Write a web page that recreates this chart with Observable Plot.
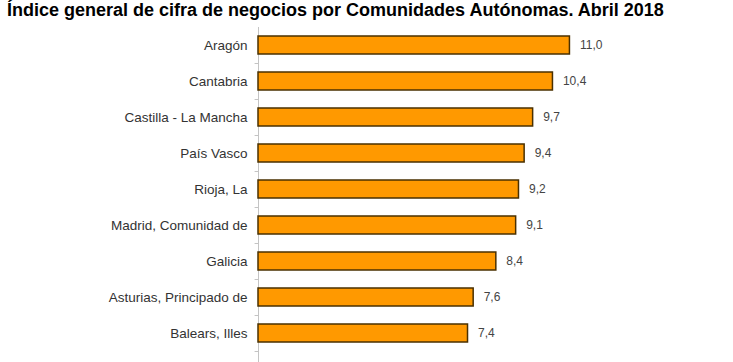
<!DOCTYPE html>
<html><head><meta charset="utf-8">
<script src="https://cdn.jsdelivr.net/npm/d3@7"></script>
<script src="https://cdn.jsdelivr.net/npm/@observablehq/plot@0.6"></script>
<style>
body{margin:0;background:#fff;}
#title{font-family:"Liberation Sans",Arial,sans-serif;font-weight:bold;font-size:18px;height:24px;line-height:21px;padding-left:7px;color:#000;white-space:nowrap;overflow:hidden}
#chart svg{display:block}
</style></head><body>
<div id="title">Índice general de cifra de negocios por Comunidades Autónomas. Abril 2018</div>
<div id="chart"></div>
<script>
const regiones = ["Aragón", "Cantabria", "Castilla - La Mancha", "País Vasco", "Rioja, La", "Madrid, Comunidad de", "Galicia", "Asturias, Principado de", "Balears, Illes"];
const valores = [11.0, 10.4, 9.7, 9.4, 9.2, 9.1, 8.4, 7.6, 7.4];
const etiquetas = ["11,0", "10,4", "9,7", "9,4", "9,2", "9,1", "8,4", "7,6", "7,4"];
const data = regiones.map((r, i) => ({region: r, valor: valores[i], etiqueta: etiquetas[i]}));

const chart = Plot.plot({
  width: 733, height: 338,
  marginLeft: 258, marginRight: 22, marginTop: 3, marginBottom: 0,
  style: {fontFamily: "'Liberation Sans', Arial, sans-serif", fontSize: "12px", color: "#333", background: "#fff"},
  x: {domain: [0, 16], axis: null},
  y: {domain: regiones, range: [3, 327], paddingInner: 0.5, paddingOuter: 0.25, axis: null},
  marks: [
    Plot.ruleX([0], {stroke: "#c4c4c4"}),
    Plot.ruleY(regiones, {x1: -0.12, x2: 0, dy: 18, stroke: "#c4c4c4"}),
    Plot.barX(data, {x: "valor", y: "region", fill: "#FF9900", stroke: "#4a3000", strokeWidth: 1.5}),
    Plot.axisY({tickSize: 0, tickPadding: 11, fontSize: 13.5, fill: "#333", label: null}),
    Plot.text(data, {x: "valor", y: "region", text: "etiqueta", textAnchor: "start", dx: 10, fill: "#444", fontSize: 12})
  ]
});
document.getElementById("chart").appendChild(chart);
</script>
</body></html>
